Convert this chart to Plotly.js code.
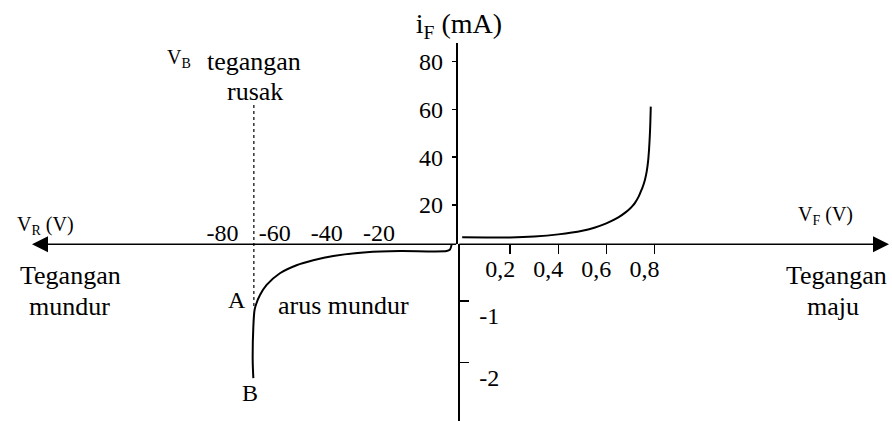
<!DOCTYPE html>
<html>
<head>
<meta charset="utf-8">
<script src="https://cdn.plot.ly/plotly-3.0.1.min.js"></script>
<style>
  html, body { margin: 0; padding: 0; background: #fff; }
  #chart { width: 892px; height: 421px; }
</style>
</head>
<body>
<div id="chart"></div>
<script>
// Forward branch: V_F in volts, i_F in mA
const forwardV = [0.0, 0.1, 0.2, 0.3, 0.4, 0.5, 0.55, 0.6, 0.65, 0.68, 0.70, 0.71, 0.72, 0.735, 0.745, 0.75, 0.76, 0.768, 0.774, 0.778, 0.781, 0.783, 0.785];
const forwardI = [6.5, 6.4, 6.4, 6.8, 7.7, 9.2, 10.5, 12.3, 14.8, 16.9, 18.6, 19.7, 21.0, 23.6, 26.0, 27.2, 30.3, 34.0, 38.5, 43.5, 49.0, 54.0, 61.2];

// Reverse branch: V_R in volts, reverse current on the lower scale
const reverseV = [-68.2, -68.45, -68.2, -67.75, -67.2, -65.6, -63.1, -58.0, -51.6, -45.2, -37.5, -24.7, -11.9, 6.0, 7.3, 7.9];
const reverseI = [-2.25, -1.96, -1.42, -1.15, -1.06, -0.90, -0.74, -0.55, -0.42, -0.34, -0.27, -0.21, -0.19, -0.19, -0.165, -0.09];

// Breakdown voltage V_B
const breakdownV = -68;

// Tick values and labels
const negVTicks = [-80, -60, -40, -20];
const negVLabels = ['-80', '-60', '-40', '-20'];
const posVTicks = [0.2, 0.4, 0.6, 0.8];
const posVLabels = ['0,2', '0,4', '0,6', '0,8'];
const fwdITicks = [20, 40, 60, 80];
const fwdILabels = ['20', '40', '60', '80'];
const revITicks = [-1, -2];
const revILabels = ['-1', '-2'];

const W = 892, H = 421;
const FONT = "'Liberation Serif', 'Times New Roman', serif";
const px = v => v / W;
const py = v => 1 - v / H;

const originX = px(457.7);
const originY = py(244.3);

const traces = [
  {
    x: forwardV, y: forwardI, xaxis: 'x2', yaxis: 'y',
    type: 'scatter', mode: 'lines',
    line: { color: '#000', width: 2, shape: 'spline', smoothing: 0.6 },
    hoverinfo: 'skip', showlegend: false
  },
  {
    x: reverseV, y: reverseI, xaxis: 'x', yaxis: 'y2',
    type: 'scatter', mode: 'lines',
    line: { color: '#000', width: 2, shape: 'spline', smoothing: 0.7 },
    hoverinfo: 'skip', showlegend: false
  }
];

const tickFont = { family: FONT, size: 24, color: '#000' };
const fwdRange = [3.54, 87.83];
const revRange = [-2.945, -0.081];

const layout = {
  width: W, height: H,
  margin: { l: 0, r: 0, t: 0, b: 0, pad: 0 },
  paper_bgcolor: '#fff', plot_bgcolor: 'rgba(0,0,0,0)',
  showlegend: false,
  font: { family: FONT, color: '#000' },
  title: {
    text: 'i<sub>F</sub> (mA)',
    x: px(459), xanchor: 'center', y: py(23.5), yanchor: 'middle',
    font: { family: FONT, size: 28, color: '#000' }
  },
  // reverse-voltage scale (left half), labels above the axis
  xaxis: {
    domain: [0, originX], range: [-165.45, 10.25], anchor: 'y2', side: 'top',
    showline: false, showgrid: false, zeroline: false, ticks: '',
    tickvals: negVTicks, ticktext: negVLabels, tickfont: tickFont,
    ticklabelstandoff: -2, fixedrange: true
  },
  // forward-voltage scale (right half)
  xaxis2: {
    domain: [originX, 1], range: [-0.0186, 1.789], anchor: 'y', side: 'bottom',
    showline: false, showgrid: false, zeroline: false,
    ticks: 'outside', ticklen: 9, tickwidth: 1.5, tickcolor: '#000',
    tickvals: posVTicks, ticktext: posVLabels, tickfont: tickFont,
    ticklabelshift: -10, ticklabelstandoff: -6, fixedrange: true
  },
  // forward current scale (upper half)
  yaxis: {
    domain: [originY, py(43)], range: fwdRange, anchor: 'x2', side: 'left',
    showline: true, linecolor: '#000', linewidth: 1.8,
    showgrid: false, zeroline: false,
    ticks: 'outside', ticklen: 4, tickwidth: 1.5, tickcolor: '#000',
    tickvals: fwdITicks, ticktext: fwdILabels, tickfont: tickFont,
    ticklabelstandoff: 4, fixedrange: true
  },
  yaxis3: {
    overlaying: 'y', range: fwdRange, anchor: 'x2', side: 'left',
    showline: false, showgrid: false, zeroline: false,
    ticks: 'inside', ticklen: 8, tickwidth: 1.5, tickcolor: '#000',
    tickvals: fwdITicks, showticklabels: false, fixedrange: true
  },
  // reverse current scale (lower half), labels right of the axis
  yaxis2: {
    domain: [0, originY], range: revRange, anchor: 'x', side: 'right',
    showline: true, linecolor: '#000', linewidth: 1.8,
    showgrid: false, zeroline: false,
    ticks: 'outside', ticklen: 9, tickwidth: 1.5, tickcolor: '#000',
    tickvals: revITicks, ticktext: revILabels, tickfont: tickFont,
    ticklabelshift: 15, ticklabelstandoff: 6, fixedrange: true
  },
  yaxis4: {
    overlaying: 'y2', range: revRange, anchor: 'x', side: 'right',
    showline: false, showgrid: false, zeroline: false,
    ticks: 'inside', ticklen: 4, tickwidth: 1.5, tickcolor: '#000',
    tickvals: revITicks, showticklabels: false, fixedrange: true
  },
  shapes: [
    {
      type: 'line', xref: 'x', yref: 'paper',
      x0: breakdownV, x1: breakdownV, y0: py(306), y1: py(102),
      line: { color: '#000', width: 1.2, dash: 'dot' }
    }
  ],
  annotations: []
};

// horizontal axis drawn as two arrows from the origin
layout.annotations.push(
  { xref: 'paper', yref: 'paper', x: px(32), y: originY, ax: 457.7 - 32, ay: 0,
    text: '', showarrow: true, arrowhead: 2, arrowsize: 2, arrowwidth: 1.6, arrowcolor: '#000' },
  { xref: 'paper', yref: 'paper', x: px(889), y: originY, ax: -(889 - 457.7), ay: 0,
    text: '', showarrow: true, arrowhead: 2, arrowsize: 2, arrowwidth: 1.6, arrowcolor: '#000' }
);

function label(text, x, y, size) {
  layout.annotations.push({
    xref: 'paper', yref: 'paper', x: px(x), y: py(y),
    xanchor: 'center', yanchor: 'middle', showarrow: false,
    text: text, font: { family: FONT, size: size, color: '#000' }
  });
}

label('V<sub>B</sub>', 179, 58, 20);
label('tegangan', 254, 61, 26);
label('rusak', 255, 91, 26);
label('V<sub>R</sub> (V)', 45, 225, 20);
label('V<sub>F</sub> (V)', 825, 215, 20);
label('Tegangan', 70, 275.6, 26);
label('mundur', 69, 306, 26);
label('Tegangan', 836.5, 275.6, 26);
label('maju', 833, 306, 26);
label('A', 237, 300, 24);
label('arus mundur', 343.5, 305, 26);
label('B', 250, 393, 24);

Plotly.newPlot('chart', traces, layout, { staticPlot: true, displayModeBar: false });
</script>
</body>
</html>
